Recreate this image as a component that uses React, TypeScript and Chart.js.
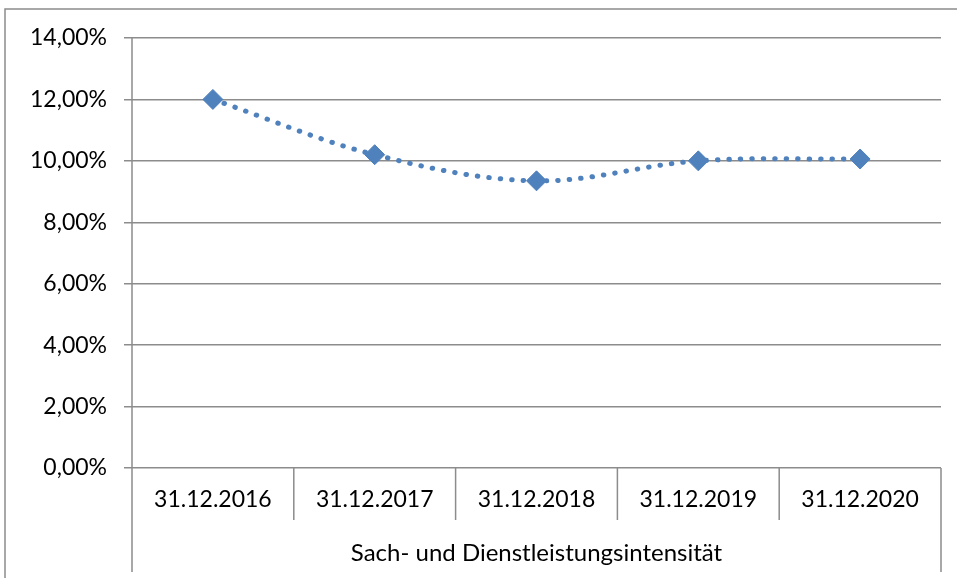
import React, { useEffect, useRef } from "react";
import { Chart, registerables } from "chart.js";

Chart.register(...registerables);

const categories = ["31.12.2016", "31.12.2017", "31.12.2018", "31.12.2019", "31.12.2020"];
const groupLabel = "Sach- und Dienstleistungsintensität";
const seriesValues = [12.0, 10.2, 9.35, 10.0, 10.06];
const yTicks = [0, 2, 4, 6, 8, 10, 12, 14];

const FONT = "Lato, 'Open Sans', sans-serif";
const GRID = "#8c8c8c";
const BLUE = "#4F81BD";

const fmt = (v: number) => v.toFixed(2).replace(".", ",") + "%";

const decor = {
  id: "decor",
  beforeDraw(chart: any) {
    const ctx = chart.ctx;
    ctx.save();
    ctx.fillStyle = "#fff";
    ctx.fillRect(0, 0, chart.width, chart.height);
    ctx.strokeStyle = GRID;
    ctx.lineWidth = 1.5;
    ctx.beginPath();
    ctx.moveTo(5, chart.height);
    ctx.lineTo(5, 9);
    ctx.lineTo(chart.width, 9);
    ctx.stroke();
    ctx.restore();
  },
  afterDraw(chart: any) {
    const ctx = chart.ctx;
    const area = chart.chartArea;
    const x = chart.scales.x;
    const n = categories.length;
    const w = (area.right - area.left) / n;
    ctx.save();
    ctx.strokeStyle = GRID;
    ctx.lineWidth = 1.5;
    ctx.beginPath();
    ctx.moveTo(area.left, area.top);
    ctx.lineTo(area.left, 572);
    ctx.moveTo(area.right, area.bottom);
    ctx.lineTo(area.right, 572);
    for (let i = 1; i < n; i++) {
      const xx = area.left + w * i;
      ctx.moveTo(xx, area.bottom);
      ctx.lineTo(xx, 520);
    }
    ctx.stroke();
    ctx.fillStyle = "#000";
    ctx.font = `23px ${FONT}`;
    ctx.textAlign = "center";
    ctx.textBaseline = "middle";
    categories.forEach((c, i) => {
      ctx.fillText(c, x.getPixelForValue(i), 500);
    });
    ctx.font = `24px ${FONT}`;
    ctx.fillText(groupLabel, (area.left + area.right) / 2, 553);
    ctx.restore();
  },
};

export default function App() {
  const ref = useRef<HTMLCanvasElement>(null);
  useEffect(() => {
    document.body.style.margin = "0";
    const chart = new Chart(ref.current as HTMLCanvasElement, {
      type: "line",
      data: {
        labels: categories,
        datasets: [
          {
            data: seriesValues,
            borderColor: BLUE,
            borderWidth: 5,
            borderDash: [0.5, 11],
            borderCapStyle: "round",
            tension: 0.35,
            pointStyle: "rectRot",
            pointRadius: 10,
            pointHoverRadius: 10,
            pointBackgroundColor: BLUE,
            pointBorderColor: BLUE,
            pointBorderWidth: 1,
          } as any,
        ],
      },
      options: {
        animation: false,
        responsive: false,
        maintainAspectRatio: false,
        layout: { padding: { left: 5, top: 38, right: 16, bottom: 110 } },
        plugins: { legend: { display: false }, tooltip: { enabled: false } },
        scales: {
          x: {
            type: "category",
            display: false,
            offset: true,
          },
          y: {
            min: 0,
            max: 14,
            afterFit: (s: any) => {
              s.width = 127;
            },
            afterBuildTicks: (s: any) => {
              s.ticks = yTicks.map((v) => ({ value: v }));
            },
            border: { display: false },
            grid: { color: GRID, lineWidth: 1.5, tickLength: 8, drawTicks: true },
            ticks: {
              color: "#000",
              padding: 17,
              font: { family: FONT, size: 23 },
              callback: (v: any) => fmt(Number(v)),
            },
          },
        },
      },
      plugins: [decor],
    });
    return () => chart.destroy();
  }, []);
  return (
    <div style={{ position: "absolute", left: 0, top: 0, width: 957, height: 578 }}>
      <canvas ref={ref} width={957} height={578} style={{ width: 957, height: 578 }} />
    </div>
  );
}
